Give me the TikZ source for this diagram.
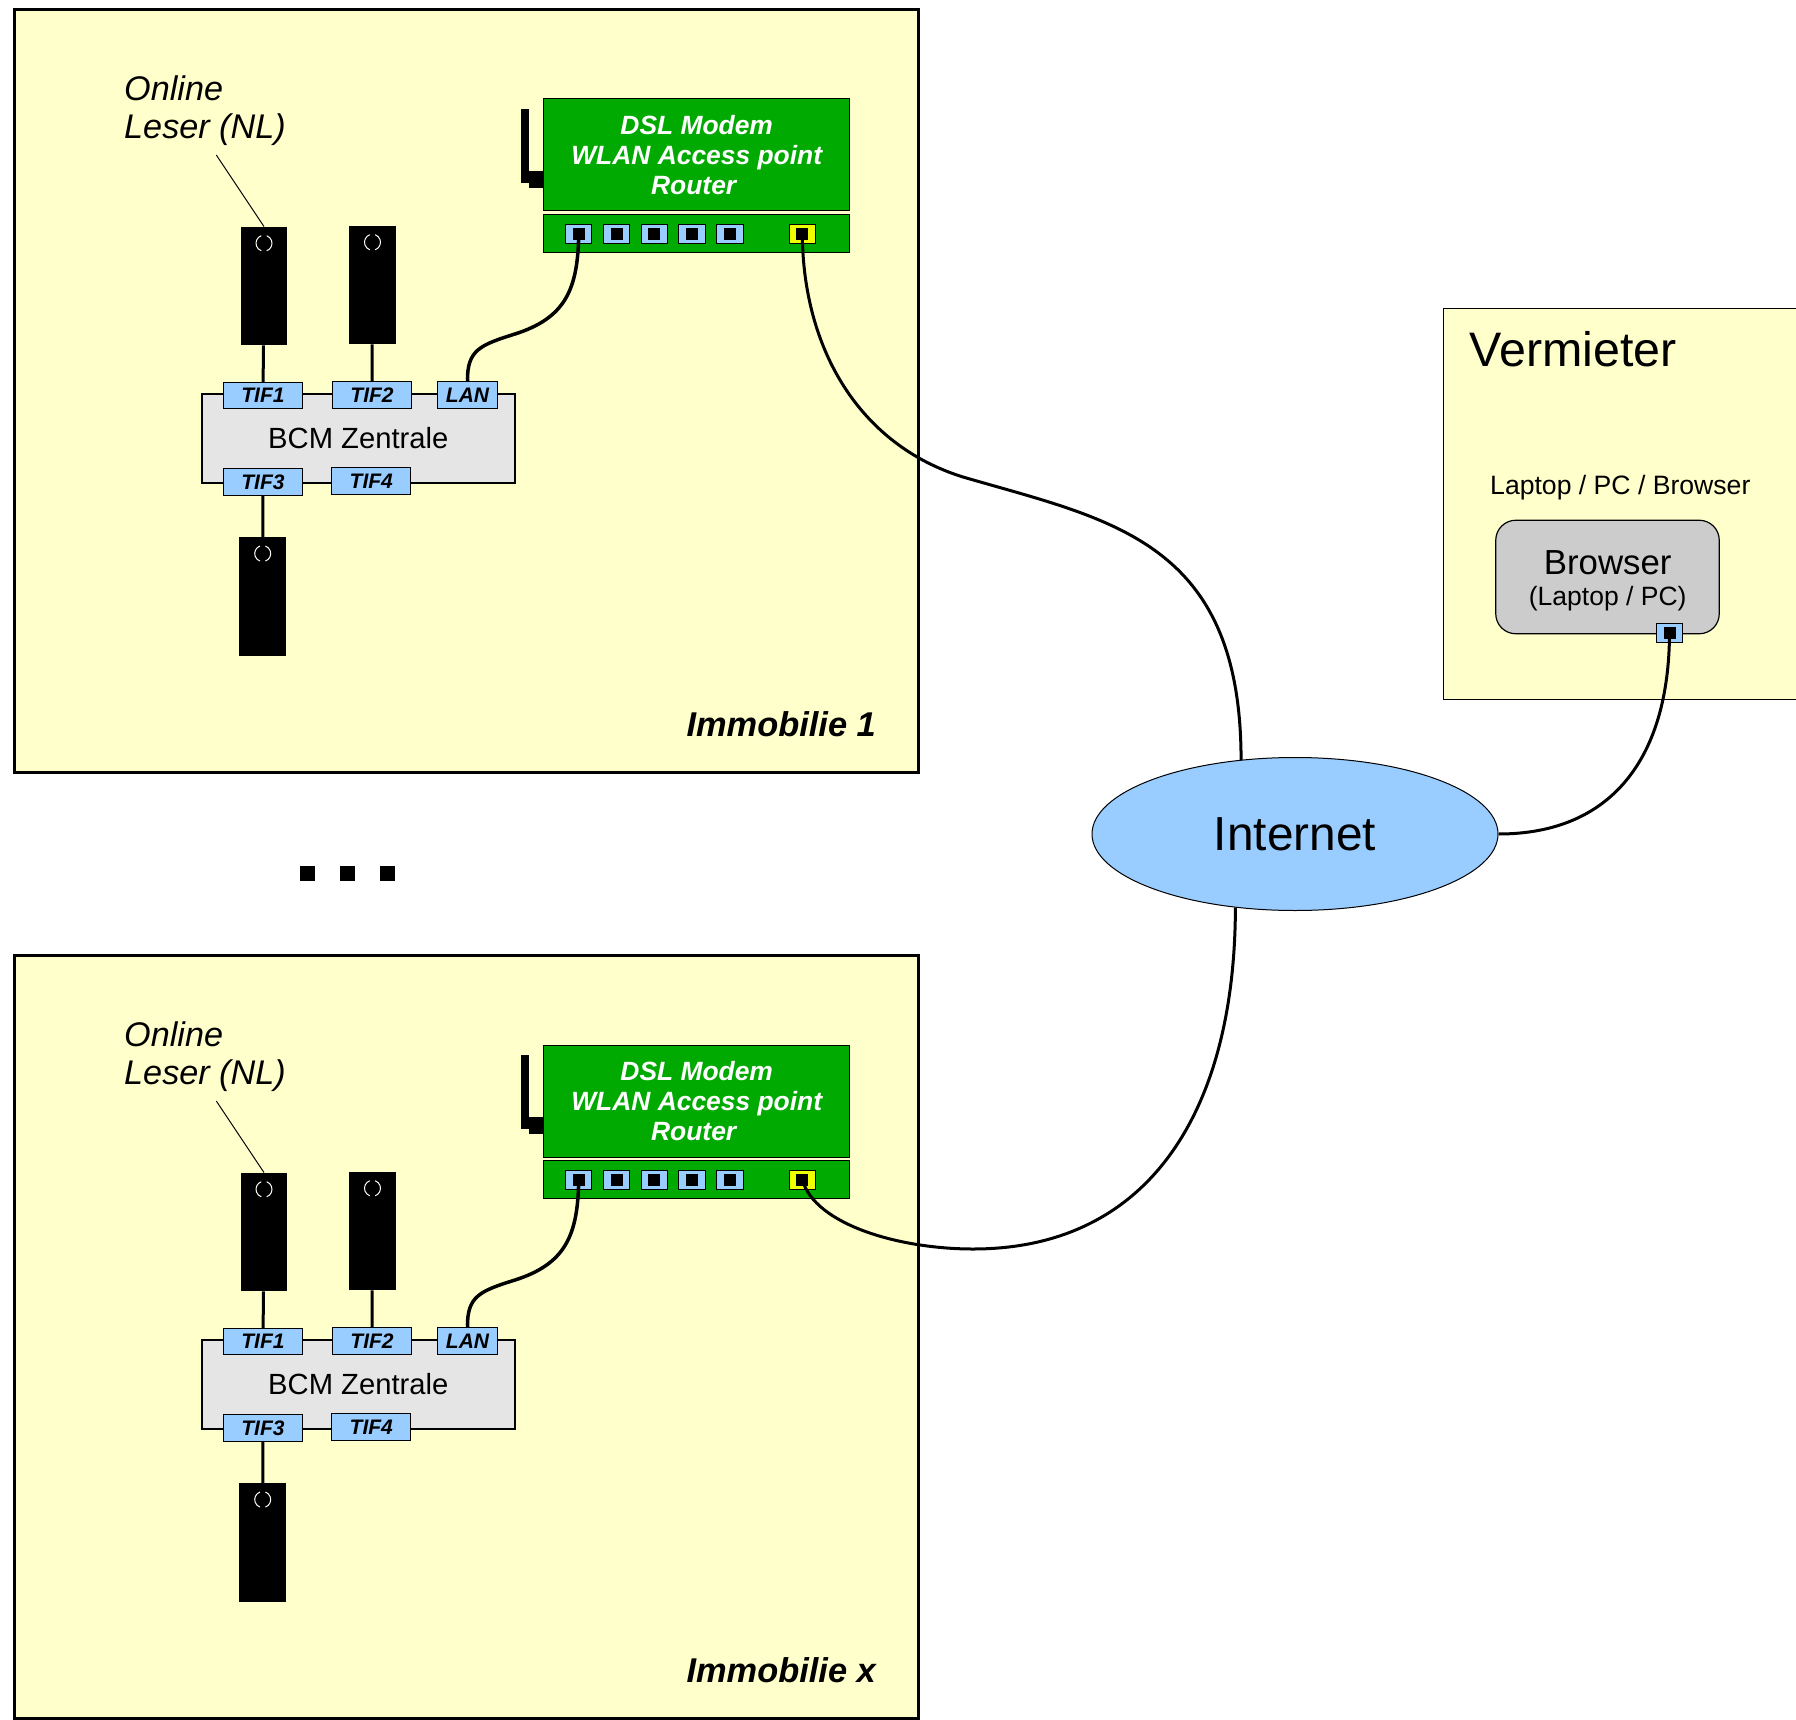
\documentclass[tikz,border=0pt]{standalone}
\usepackage{fontspec}
\usetikzlibrary{shapes.geometric}
\setmainfont{Liberation Sans}
\definecolor{housecol}{HTML}{FFFFCC}
\definecolor{bluecol}{HTML}{99CCFF}
\definecolor{greencol}{HTML}{00AA00}
\definecolor{yellowcol}{HTML}{EEFF00}
\begin{document}
\begin{tikzpicture}[x=1pt, y=-1pt, inner sep=0pt,
    main box/.style={rectangle, draw, line width=3pt, fill=housecol},
    green box/.style={rectangle, draw, line width=1pt, fill=greencol, minimum width=306.5pt},
    port node/.style={rectangle, draw, line width=1pt, fill=bluecol, minimum width=26.5pt, minimum height=19pt,
        path picture={\fill[black] (path picture bounding box.center) +(-6,-6) rectangle +(6,6);}},
    tif node/.style={rectangle, draw, line width=1pt, fill=bluecol, minimum width=79pt, minimum height=26.5pt,
        font=\fontsize{21}{21}\selectfont\bfseries\itshape},
    reader node/.style={rectangle, fill=black, minimum width=46.5pt, minimum height=118.5pt,
        path picture={\draw[white, line width=1pt]
            ([yshift=-16.5pt]path picture bounding box.north) +(110:8pt) arc[start angle=110, end angle=250, radius=8pt]
            ([yshift=-16.5pt]path picture bounding box.north) +(-70:8pt) arc[start angle=-70, end angle=70, radius=8pt];}},
    cable/.style={line width=3pt},
    lan cable/.style={line width=3.5pt}]
    \useasboundingbox (0,0) rectangle (1796,1720);

    % the two houses
    \foreach \n/\dy/\title in {a/0/Immobilie 1, x/946/Immobilie x} {
      \begin{scope}[yshift=-\dy pt]
        \node[main box, minimum width=904.7pt, minimum height=762.5pt] (house\n) at (466.6,391.2) {};
        \node[anchor=base east, font=\fontsize{34.4}{34.4}\selectfont\bfseries\itshape] (title\n) at (876,736.5) {\title};

        % modem
        \node[green box, minimum height=112pt] (modem\n) at (696.7,155) {};
        \node[align=center, text=white, font=\fontsize{26.4}{30}\selectfont\bfseries\itshape] (modemtext\n) at (696.7,155) {DSL Modem\\WLAN Access point\\Router\kern6pt};
        \node[green box, minimum height=38pt] (portbar\n) at (696.7,233.3) {};
        \node[rectangle, fill=black, minimum width=8pt, minimum height=74pt] (antenna\n) at (525.2,146) {};
        \node[rectangle, fill=black, minimum width=15pt, minimum height=17pt] (foot\n) at (536.5,179.5) {};
        \node[port node] (lanport\n) at (578.7,233.7) {};
        \foreach \p/\q in {1/lanport, 2/p2, 3/p3, 4/p4} {
          \pgfmathtruncatemacro{\next}{\p+1}
          \node[port node, right of=\q\n, node distance=37.8pt] (p\next\n) {};
        }
        \node[port node, fill=yellowcol] (wan\n) at (802.3,233.7) {};

        % central unit
        \node[rectangle, draw, line width=2pt, fill=black!10, minimum width=312.5pt, minimum height=88.5pt,
            font=\fontsize{29.2}{29.2}\selectfont] (bcm\n) at (358.3,438.3) {BCM Zentrale};
        \node[tif node] (tifa\n) at (263,395.7) {TIF1};
        \node[tif node] (tifb\n) at (372,395) {TIF2};
        \node[tif node, minimum width=59.5pt] (lan\n) at (467.5,395) {LAN};
        \node[tif node] (tifc\n) at (263,482) {TIF3};
        \node[tif node] (tifd\n) at (371.3,481) {TIF4};

        % readers
        \node[reader node] (readera\n) at (264,286) {};
        \node[reader node] (readerb\n) at (372.5,285) {};
        \node[reader node] (readerc\n) at (262.7,596.3) {};
        \draw[cable] (readera\n) -- (tifa\n);
        \draw[cable] (readerb\n) -- (tifb\n);
        \draw[cable] (tifc\n) -- (readerc\n);

        \node[align=left, font=\fontsize{34.2}{38.5}\selectfont\itshape] (online\n) at (205,110.8) {Online\\Leser (NL)};
        \coordinate (lead\n) at (216.3,155);
        \draw[line width=1pt] (lead\n) -- (readera\n.north);

        \draw[lan cable] (lanport\n.center) .. controls (578,290) and (565,318) .. (515,334)
            .. controls (480,345) and (467,350) .. (lan\n.north);
      \end{scope}
    }

    % three dots
    \foreach \i/\xpos in {1/307, 2/347, 3/387}
      \node[rectangle, fill=black, minimum size=15pt] (dot\i) at (\xpos,873.5) {};

    % landlord
    \node[rectangle, draw, line width=1.2pt, fill=housecol, anchor=north west, minimum width=380pt, minimum height=391pt] (landlord) at (1443,308) {};
    \node[anchor=base west, font=\fontsize{48.4}{48.4}\selectfont] (landlordtext) at (1469.5,366.7) {Vermieter};
    \node[anchor=base west, font=\fontsize{26.6}{26.6}\selectfont] (devicetext) at (1490,494) {Laptop / PC / Browser};
    \node[rectangle, rounded corners=20pt, draw, line width=1.2pt, fill=black!20, minimum width=223.5pt, minimum height=113.5pt] (browser) at (1607.5,577) {};
    \node[anchor=base, font=\fontsize{34.8}{34.8}\selectfont] (browsertext) at (1607.7,574) {Browser};
    \node[anchor=base, font=\fontsize{26.5}{26.5}\selectfont] (browsersub) at (1607.7,605) {(Laptop / PC)};
    \node[port node] (browserport) at (1669.5,633) {};

    % internet
    \node[ellipse, draw, line width=1pt, fill=bluecol, minimum width=406pt, minimum height=153pt,
        font=\fontsize{47.8}{47.8}\selectfont] (internet) at (1295,834) {Internet};
    \draw[cable] (wana.center) .. controls (803,350) and (860,445) .. (963,477)
        .. controls (1110,520) and (1241,540) .. (internet.126);
    \draw[cable] (wanx.center) .. controls (815,1225) and (900,1249) .. (973,1249)
        .. controls (1150,1249) and (1235,1110) .. (internet.231);
    \draw[cable] (browserport.center) .. controls (1669,760) and (1610,834) .. (internet.east);
\end{tikzpicture}
\end{document}
